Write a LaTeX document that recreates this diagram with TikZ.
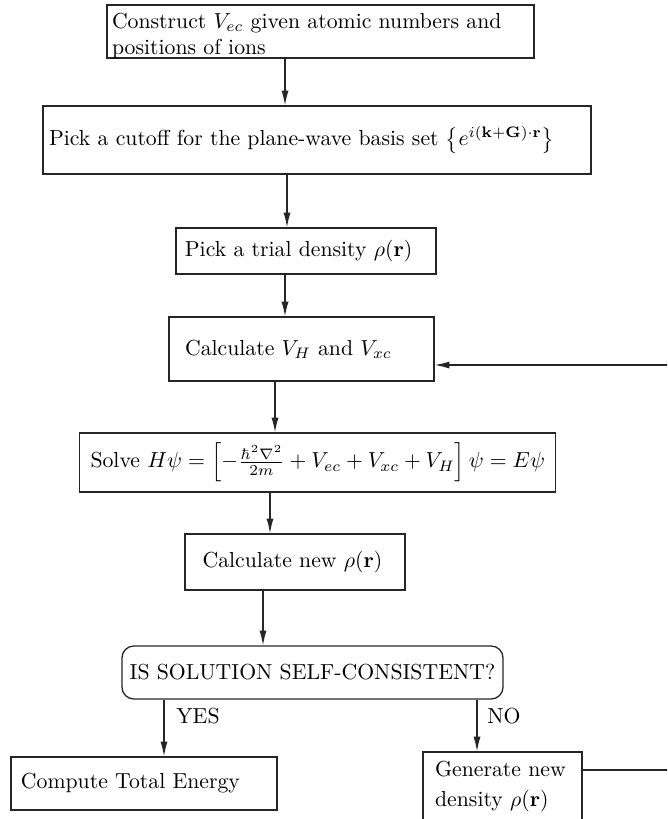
\documentclass[tikz,border=0pt]{standalone}
\usetikzlibrary{arrows.meta}
\begin{document}
\begin{tikzpicture}[x=0.46pt,y=-0.46pt,
  every node/.style={font=\fontsize{10}{12}\selectfont},
  bx/.style={draw=black!85, line width=0.6pt, align=left, inner ysep=0pt},
  arr/.style={draw=black!85, line width=0.6pt, -{Latex[length=6.8pt,width=3.3pt]}},
  lbl/.style={anchor=west, inner sep=0pt}]
\useasboundingbox (0,0) rectangle (667,819);
\clip (0,0) rectangle (667,819);

\node[bx, minimum width=196.4pt, minimum height=24.4pt, text width=191.8pt, inner xsep=2.3pt, text depth=10.2pt] (b1) at (320.5,31.5) {Construct $V_{ec}$ given atomic numbers and\\positions of ions};
\node[bx, minimum width=252.1pt, minimum height=31.3pt, text width=246.5pt, inner xsep=2.8pt] (b2) at (317,140) {Pick a cutoff for the plane-wave basis set $\left\{e^{i(\mathbf{k}+\mathbf{G})\cdot\mathbf{r}}\right\}$};
\node[bx, minimum width=119.6pt, minimum height=21.2pt, text width=111.4pt, inner xsep=4.1pt] (b3) at (306,251) {Pick a trial density $\rho(\mathbf{r})$};
\node[bx, minimum width=121.9pt, minimum height=29.4pt, text width=107.1pt, inner xsep=7.4pt] (b4) at (301.5,349) {Calculate $V_H$ and $V_{xc}$};
\node[bx, minimum height=27.1pt, inner xsep=5pt, anchor=west] (b5) at (79,462.5) {Solve $H\psi=\left[-\frac{\hbar^2\nabla^2}{2m}+V_{ec}+V_{xc}+V_H\right]\psi=E\psi$};
\node[bx, minimum width=101.2pt, minimum height=25.8pt, text width=85pt, inner xsep=8.1pt] (b6) at (295,562) {Calculate new $\rho(\mathbf{r})$};
\node[bx, rounded corners=5.5pt, minimum width=175.3pt, minimum height=24.4pt, inner xsep=1pt] (dec) at (312.5,672.5) {IS SOLUTION SELF-CONSISTENT?};
\node[bx, minimum width=122.4pt, minimum height=24.4pt, text width=113.2pt, inner xsep=4.6pt] (comp) at (144,783.5) {Compute Total Energy};
\node[bx, minimum width=73.1pt, minimum height=32.2pt, text width=62pt, inner xsep=0pt] (gen) at (502.5,787) {Generate new\\[1.8pt]density $\rho(\mathbf{r})$};

\node[lbl] (yes) at (176,716) {YES};
\node[lbl] (no) at (487,716) {NO};

\coordinate (x1) at (285,0);
\coordinate (x2) at (287,0);
\coordinate (x3) at (285,0);
\coordinate (x4) at (275,0);
\coordinate (x5) at (270,0);
\coordinate (x6) at (263,0);
\coordinate (xy) at (164,0);
\coordinate (xn) at (477,0);
\coordinate (fbA) at (669,770);
\coordinate (fbB) at (669,365);

\draw[arr] (b1.south -| x1) -- (b2.north -| x1);
\draw[arr] (b2.south -| x2) -- (b3.north -| x2);
\draw[arr] (b3.south -| x3) -- (b4.north -| x3);
\draw[arr] (b4.south -| x4) -- (b5.north -| x4);
\draw[arr] (b5.south -| x5) -- (b6.north -| x5);
\draw[arr] (b6.south -| x6) -- (dec.north -| x6);
\draw[arr] (dec.south -| xy) -- (comp.north -| xy);
\draw[arr] (dec.south -| xn) -- (gen.north -| xn);
\draw[arr] (gen.east |- fbA) -- (fbA) -- (fbB) -- (b4.east |- fbB);
\end{tikzpicture}
\end{document}
